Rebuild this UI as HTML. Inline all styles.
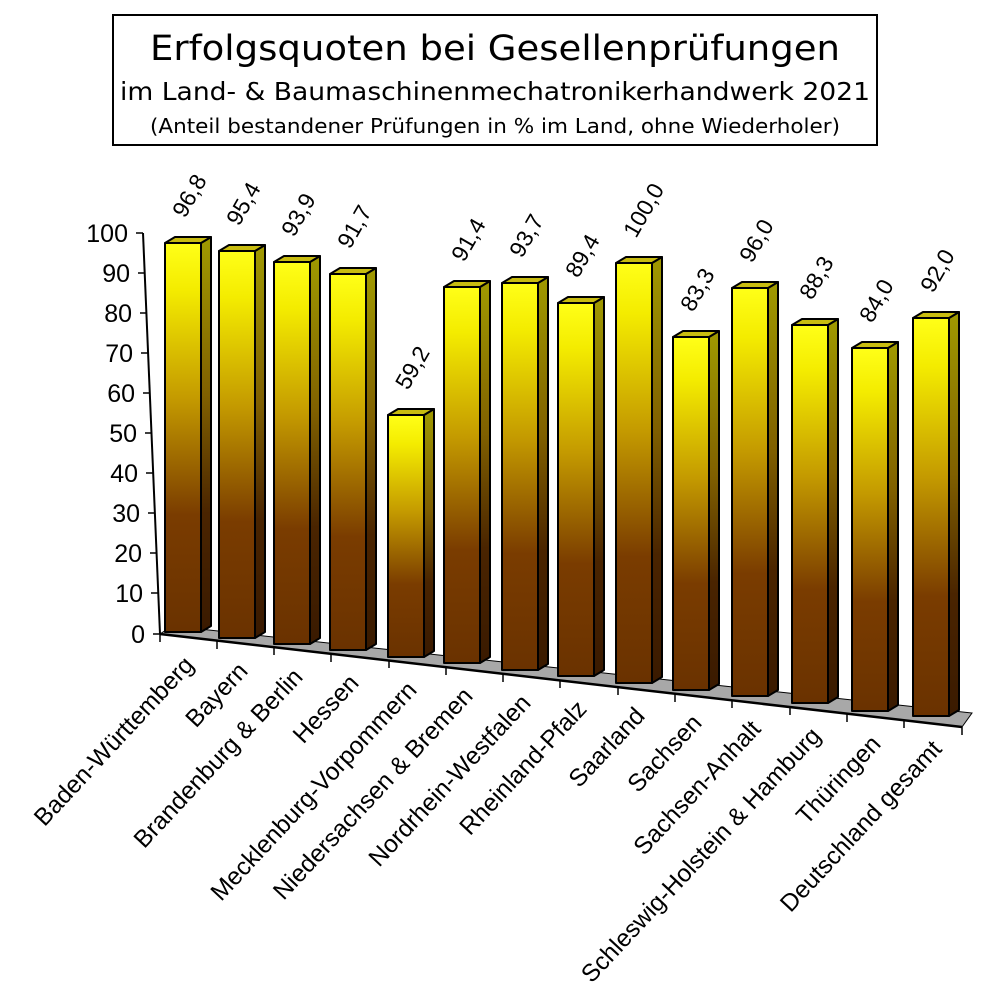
<!DOCTYPE html>
<html><head><meta charset="utf-8"><style>
html,body{margin:0;padding:0;background:#fff;}
svg{display:block;font-family:"Liberation Sans",Arial,sans-serif;}
</style></head><body>
<svg width="998" height="1000" viewBox="0 0 998 1000" xmlns="http://www.w3.org/2000/svg">
<defs>
<linearGradient id="gf" x1="0" y1="0" x2="0" y2="1">
<stop offset="0" stop-color="#ffff18"/>
<stop offset="0.12" stop-color="#f4ec00"/>
<stop offset="0.4" stop-color="#c49a00"/>
<stop offset="0.7" stop-color="#7a3c00"/>
<stop offset="1" stop-color="#6a3200"/>
</linearGradient>
<linearGradient id="gs" x1="0" y1="0" x2="0" y2="1">
<stop offset="0" stop-color="#a09a00"/>
<stop offset="0.4" stop-color="#806000"/>
<stop offset="0.7" stop-color="#4a2400"/>
<stop offset="1" stop-color="#3a1a00"/>
</linearGradient>
</defs>
<rect x="113" y="15" width="764" height="130" fill="#fff" stroke="#000" stroke-width="2"/>
<g font-family="'DejaVu Sans',Verdana,sans-serif" text-anchor="middle">
<text x="495" y="60" font-size="35" textLength="690" lengthAdjust="spacingAndGlyphs">Erfolgsquoten bei Gesellenprüfungen</text>
<text x="495" y="100" font-size="25" textLength="750" lengthAdjust="spacingAndGlyphs">im Land- &amp; Baumaschinenmechatronikerhandwerk 2021</text>
<text x="495" y="133" font-size="20" textLength="690" lengthAdjust="spacingAndGlyphs">(Anteil bestandener Prüfungen in % im Land, ohne Wiederholer)</text>
</g>

<polygon points="160,634 172,626 972,713 962,727" fill="#a8a8a8" stroke="#000" stroke-width="1"/>
<line x1="160" y1="634" x2="962" y2="727" stroke="#000" stroke-width="2.5"/>
<line x1="143" y1="233" x2="160" y2="634" stroke="#000" stroke-width="2"/>
<g stroke="#000" stroke-width="1.5">
<line x1="136" y1="233" x2="143" y2="233"/><line x1="138" y1="273" x2="145" y2="273"/><line x1="140" y1="313" x2="147" y2="313"/><line x1="141" y1="353" x2="148" y2="353"/><line x1="143" y1="393" x2="150" y2="393"/><line x1="145" y1="433" x2="152" y2="433"/><line x1="146" y1="473" x2="153" y2="473"/><line x1="148" y1="513" x2="155" y2="513"/><line x1="150" y1="553" x2="157" y2="553"/><line x1="151" y1="593" x2="158" y2="593"/><line x1="153" y1="634" x2="160" y2="634"/>
</g>
<g font-size="25" text-anchor="end">
<text x="128" y="242">100</text><text x="130" y="282">90</text><text x="132" y="322">80</text><text x="133" y="362">70</text><text x="135" y="402">60</text><text x="137" y="442">50</text><text x="138" y="482">40</text><text x="140" y="522">30</text><text x="142" y="562">20</text><text x="143" y="602">10</text><text x="145" y="643">0</text>
</g>
<g stroke="#000" stroke-width="1.5">
<line x1="160" y1="634" x2="160" y2="642"/><line x1="217" y1="641" x2="217" y2="649"/><line x1="274" y1="647" x2="274" y2="655"/><line x1="331" y1="654" x2="331" y2="662"/><line x1="389" y1="660" x2="389" y2="668"/><line x1="446" y1="667" x2="446" y2="675"/><line x1="503" y1="674" x2="503" y2="682"/><line x1="560" y1="680" x2="560" y2="688"/><line x1="618" y1="687" x2="618" y2="695"/><line x1="675" y1="694" x2="675" y2="702"/><line x1="732" y1="700" x2="732" y2="708"/><line x1="790" y1="707" x2="790" y2="715"/><line x1="847" y1="714" x2="847" y2="722"/><line x1="904" y1="720" x2="904" y2="728"/><line x1="962" y1="727" x2="962" y2="735"/>
</g>
<g id="bars" stroke="#000" stroke-width="2" stroke-linejoin="round"></g>
<g id="vals" font-size="23"></g>
<g id="cats" font-size="24.5" text-anchor="end"></g>
</svg>
<script>
var d=[["Baden-Württemberg","96,8",165,243,632],["Bayern","95,4",219,251,638],["Brandenburg & Berlin","93,9",274,262,644],["Hessen","91,7",330,274,650],["Mecklenburg-Vorpommern","59,2",388,415,657],["Niedersachsen & Bremen","91,4",444,287,663],["Nordrhein-Westfalen","93,7",502,283,670],["Rheinland-Pfalz","89,4",558,303,676],["Saarland","100,0",616,263,683],["Sachsen","83,3",673,337,690],["Sachsen-Anhalt","96,0",732,288,696],["Schleswig-Holstein & Hamburg","88,3",792,325,703],["Thüringen","84,0",852,348,711],["Deutschland gesamt","92,0",913,318,716]];
var ns="http://www.w3.org/2000/svg",b=document.getElementById("bars"),v=document.getElementById("vals"),c=document.getElementById("cats");
function el(p,t,a,tx){var e=document.createElementNS(ns,t);for(var k in a)e.setAttribute(k,a[k]);if(tx)e.textContent=tx;p.appendChild(e);return e;}
d.forEach(function(r){var x=r[2],t=r[3],bt=r[4],w=36,dx=10,dy=6;
el(b,"polygon",{points:(x+w)+","+t+" "+(x+w+dx)+","+(t-dy)+" "+(x+w+dx)+","+(bt-dy)+" "+(x+w)+","+bt,fill:"url(#gs)"});
el(b,"polygon",{points:x+","+t+" "+(x+dx)+","+(t-dy)+" "+(x+w+dx)+","+(t-dy)+" "+(x+w)+","+t,fill:"#c8bc10"});
el(b,"rect",{x:x,y:t,width:w,height:bt-t,fill:"url(#gf)"});
var cx=x+w/2+2,cy=t-24;
el(v,"text",{x:cx,y:cy,transform:"rotate(-60 "+cx+" "+cy+")"},r[1]);
var lx=x+w/2+12,ly=bt+34;
el(c,"text",{x:lx,y:ly,transform:"rotate(-47 "+lx+" "+ly+")"},r[0]);
});
</script>
</body></html>
